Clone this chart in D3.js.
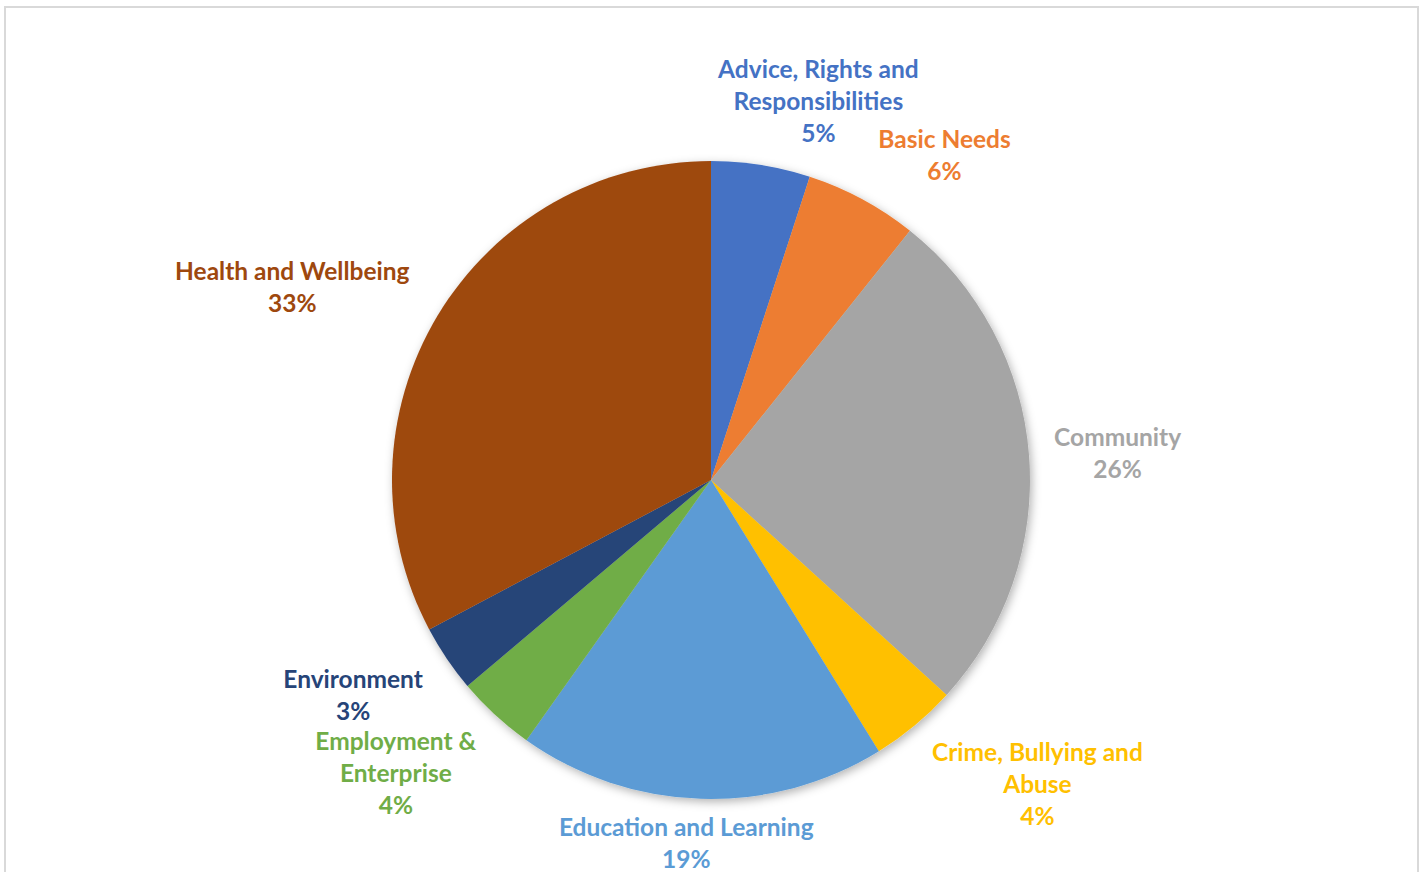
<!DOCTYPE html>
<html>
<head>
<meta charset="utf-8">
<script src="https://cdn.jsdelivr.net/npm/d3@7"></script>
<style>
  html, body { margin: 0; padding: 0; background: #fff; }
  svg { display: block; }
</style>
</head>
<body>
<div id="chart"></div>
<script>
// slice data, clockwise from 12 o'clock
const categories = [
  "Advice, Rights and Responsibilities",
  "Basic Needs",
  "Community",
  "Crime, Bullying and Abuse",
  "Education and Learning",
  "Employment & Enterprise",
  "Environment",
  "Health and Wellbeing"
];
const shares = [5.0, 5.7, 26.0, 4.4, 18.6, 4.0, 3.4, 32.7];
const labelLines = [
  ["Advice, Rights and", "Responsibilities"],
  ["Basic Needs"],
  ["Community"],
  ["Crime, Bullying and", "Abuse"],
  ["Education and Learning"],
  ["Employment &", "Enterprise"],
  ["Environment"],
  ["Health and Wellbeing"]
];
const colors = ["#4472C4", "#ED7D31", "#A5A5A5", "#FFC000", "#5B9BD5", "#70AD47", "#264478", "#9E480E"];
// best-fit label shift along the rim (degrees)
const labelNudge = [6.8, 7.4, 0.7, -7.3, 2.1, 4.5, 3.1, -6.3];

const width = 1427, height = 872;
const cx = 711, cy = 480, radius = 319;
const labelGap = 12, padX = 12, lineH = 32;

const svg = d3.select("#chart").append("svg")
  .attr("width", width)
  .attr("height", height);

// chart area frame
svg.append("rect")
  .attr("x", 5).attr("y", 7)
  .attr("width", 1413).attr("height", 900)
  .attr("fill", "#fff")
  .attr("stroke", "#d9d9d9")
  .attr("stroke-width", 2);

const defs = svg.append("defs");
defs.append("filter")
  .attr("id", "pieShadow")
  .attr("x", "-20%").attr("y", "-20%")
  .attr("width", "140%").attr("height", "140%")
  .append("feDropShadow")
  .attr("dx", 2).attr("dy", 3)
  .attr("stdDeviation", 5)
  .attr("flood-color", "#000")
  .attr("flood-opacity", 0.3);

const data = categories.map((c, i) => ({ name: c, value: shares[i], color: colors[i], lines: labelLines[i], nudge: labelNudge[i] }));
const total = d3.sum(shares);

const pie = d3.pie().value(d => d.value).sort(null);
const arc = d3.arc().innerRadius(0).outerRadius(radius);
const arcs = pie(data);

const g = svg.append("g").attr("transform", `translate(${cx},${cy})`);

g.append("g")
  .attr("filter", "url(#pieShadow)")
  .selectAll("path")
  .data(arcs)
  .join("path")
  .attr("d", arc)
  .attr("fill", d => d.data.color);

// labels: box pushed out along (nudged) mid angle until it clears the rim
const labels = g.append("g")
  .attr("font-family", "Lato, 'Open Sans', sans-serif")
  .attr("font-weight", "bold")
  .attr("font-size", 24.5)
  .attr("text-anchor", "middle");

arcs.forEach(a => {
  const d = a.data;
  const lines = d.lines.concat([Math.round(d.value / total * 100) + "%"]);
  const t = labels.append("text").attr("fill", d.color);
  lines.forEach(l => t.append("tspan").text(l));
  const hw = d3.max(t.selectAll("tspan").nodes(), n => n.getComputedTextLength()) / 2 + padX;
  const hh = lines.length * lineH / 2;

  const ang = (a.startAngle + a.endAngle) / 2 + d.nudge * Math.PI / 180;
  const ux = Math.sin(ang), uy = -Math.cos(ang);
  const rr = radius + labelGap;
  let dist = rr;
  for (; dist < rr + 400; dist += 0.5) {
    const bx = ux * dist, by = uy * dist;
    const nx = Math.max(bx - hw, Math.min(0, bx + hw));
    const ny = Math.max(by - hh, Math.min(0, by + hh));
    if (Math.hypot(nx, ny) >= rr) break;
  }
  const lx = ux * dist, ly = uy * dist;
  t.selectAll("tspan")
    .attr("x", lx)
    .attr("y", (_, i) => ly - hh + lineH * (i + 0.5))
    .attr("dy", "0.35em");
});
</script>
</body>
</html>
